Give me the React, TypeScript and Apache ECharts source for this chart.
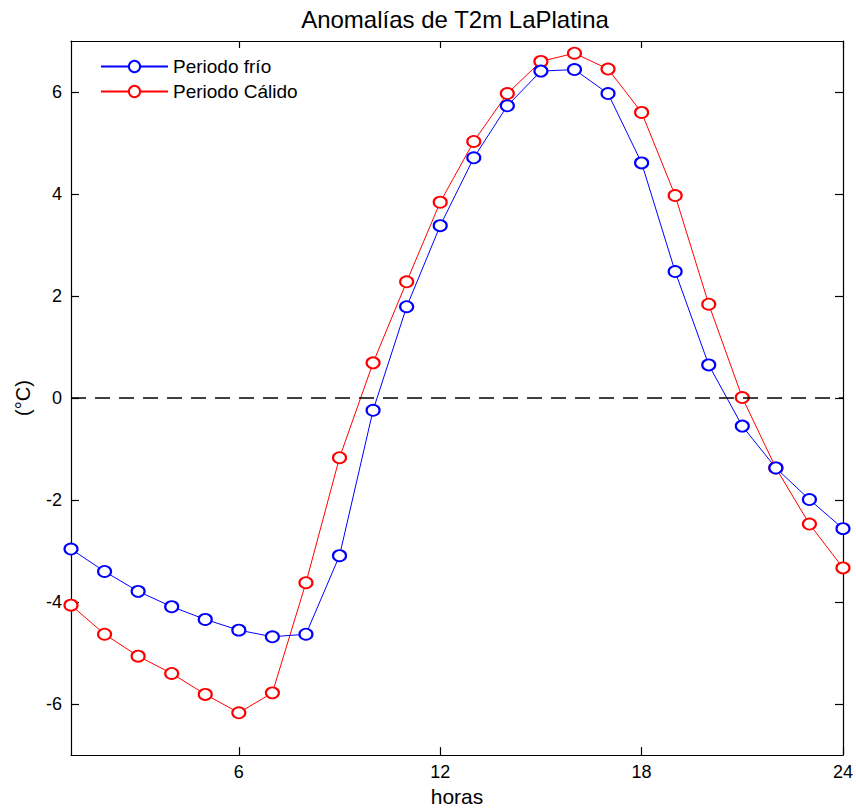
import React, { useEffect, useRef } from "react";
import * as echarts from "echarts";

const hours = [1, 2, 3, 4, 5, 6, 7, 8, 9, 10, 11, 12, 13, 14, 15, 16, 17, 18, 19, 20, 21, 22, 23, 24];
const frio = [-2.96, -3.40, -3.79, -4.09, -4.34, -4.55, -4.68, -4.63, -3.09, -0.24, 1.79, 3.38, 4.71, 5.73, 6.41, 6.44, 5.97, 4.61, 2.48, 0.65, -0.55, -1.37, -1.99, -2.56];
const calido = [-4.06, -4.63, -5.06, -5.40, -5.81, -6.17, -5.78, -3.62, -1.17, 0.69, 2.28, 3.84, 5.03, 5.97, 6.60, 6.76, 6.45, 5.60, 3.97, 1.84, 0.01, -1.37, -2.47, -3.33];
const xTicks = [6, 12, 18, 24];
const yTicks = [-6, -4, -2, 0, 2, 4, 6];

const FONT = "Liberation Sans, Arial, Helvetica, sans-serif";

export default function App() {
  const ref = useRef<HTMLDivElement>(null);
  useEffect(() => {
    if (!ref.current) return;
    const chart = echarts.init(ref.current, null, { renderer: "svg" });
    const axisLine = { show: true, onZero: false, lineStyle: { color: "#000", width: 1.2 } };
    const tickStyle = { color: "#000", width: 1.2 };
    chart.setOption({
      animation: false,
      backgroundColor: "#fff",
      textStyle: { fontFamily: FONT },
      title: {
        text: "Anomalías de T2m LaPlatina",
        left: 450,
        textAlign: "center",
        top: 2,
        textStyle: { fontFamily: FONT, fontSize: 24, fontWeight: "normal", color: "#000" },
      },
      legend: {
        orient: "vertical",
        left: 95,
        top: 52,
        itemWidth: 67,
        itemHeight: 14,
        itemGap: 6,
        textStyle: { fontFamily: FONT, fontSize: 19, color: "#000", lineHeight: 19 },
        data: ["Periodo frío", "Periodo Cálido"],
      },
      grid: { left: 71, right: 12, top: 41, bottom: 52, containLabel: false },
      xAxis: [
        {
          type: "value",
          min: 1,
          max: 24,
          position: "bottom",
          axisLine,
          axisTick: { show: true, inside: true, length: 8, lineStyle: tickStyle, customValues: xTicks },
          axisLabel: { show: true, customValues: xTicks, fontFamily: FONT, fontSize: 18, color: "#000", margin: 8 },
          splitLine: { show: false },
          name: "horas",
          nameLocation: "middle",
          nameGap: 22,
          nameTextStyle: { fontFamily: FONT, fontSize: 21, color: "#000" },
        },
        {
          type: "value",
          min: 1,
          max: 24,
          position: "top",
          axisLine,
          axisTick: { show: true, inside: true, length: 7, lineStyle: tickStyle, customValues: xTicks },
          axisLabel: { show: false },
          splitLine: { show: false },
        },
      ],
      yAxis: [
        {
          type: "value",
          min: -7,
          max: 7,
          position: "left",
          axisLine,
          axisTick: { show: true, inside: true, length: 8, lineStyle: tickStyle, customValues: yTicks },
          axisLabel: { show: true, customValues: yTicks, fontFamily: FONT, fontSize: 18, color: "#000", margin: 9 },
          splitLine: { show: false },
          name: "(°C)",
          nameLocation: "middle",
          nameRotate: 90,
          nameGap: 38,
          nameTextStyle: { fontFamily: FONT, fontSize: 20, color: "#000" },
        },
        {
          type: "value",
          min: -7,
          max: 7,
          position: "right",
          axisLine,
          axisTick: { show: true, inside: true, length: 8, lineStyle: tickStyle, customValues: yTicks },
          axisLabel: { show: false },
          splitLine: { show: false },
        },
      ],
      series: [
        {
          name: "Periodo frío",
          type: "line",
          xAxisIndex: 0,
          yAxisIndex: 0,
          data: hours.map((h, i) => [h, frio[i]]),
          symbol: "emptyCircle",
          symbolSize: [13, 11],
          showAllSymbol: true,
          color: "#0000ff",
          lineStyle: { color: "#0000ff", width: 1 },
          itemStyle: { color: "#0000ff", borderColor: "#0000ff", borderWidth: 1 },
          markLine: {
            silent: true,
            symbol: ["none", "none"],
            label: { show: false },
            lineStyle: { color: "#000", type: [15, 9], width: 1.6 },
            data: [{ yAxis: 0 }],
          },
          z: 3,
        },
        {
          name: "Periodo Cálido",
          type: "line",
          xAxisIndex: 0,
          yAxisIndex: 0,
          data: hours.map((h, i) => [h, calido[i]]),
          symbol: "emptyCircle",
          symbolSize: [13, 11],
          showAllSymbol: true,
          color: "#ff0000",
          lineStyle: { color: "#ff0000", width: 1 },
          itemStyle: { color: "#ff0000", borderColor: "#ff0000", borderWidth: 1 },
          z: 2,
        },
      ],
    });
    return () => chart.dispose();
  }, []);
  return <div ref={ref} style={{ width: 856, height: 812, position: "absolute", left: 0, top: 0 }} />;
}
